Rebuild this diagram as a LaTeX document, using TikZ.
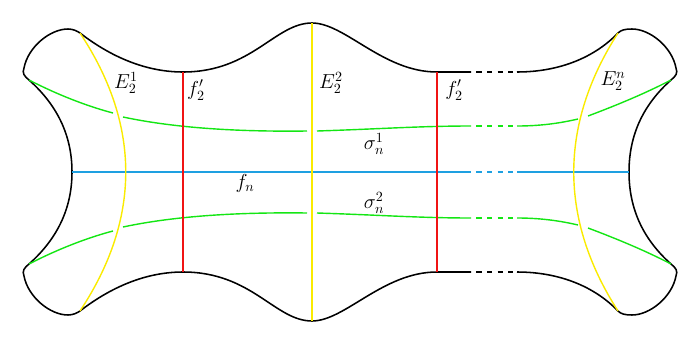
\documentclass[tikz,border=0pt]{standalone}
\usepackage{tikz}

\definecolor{seablue}{RGB}{30,160,225}
\definecolor{leafgreen}{RGB}{20,230,20}
\definecolor{sunyellow}{RGB}{250,235,0}
\definecolor{fibrered}{RGB}{240,20,20}

\tikzset{
	rim/.style={line width=1.1pt, black},
	rimdash/.style={rim, dash pattern=on 3.6pt off 3.9pt, dash phase=3.6pt},
	fibre/.style={line width=1pt, draw=fibrered},
	vanish/.style={line width=1pt, draw=sunyellow},
	sectionline/.style={line width=1pt, draw=leafgreen},
	sectiondash/.style={sectionline, dash pattern=on 3.6pt off 3.9pt, dash phase=3.6pt},
	centreline/.style={line width=1pt, draw=seablue},
	centredash/.style={centreline, dash pattern=on 3.6pt off 3.9pt, dash phase=3.6pt},
	lbl/.style={inner sep=1pt, font=\Large},
}

\begin{document}
\begin{tikzpicture}[x=0.025cm, y=0.025cm]
	\useasboundingbox (0,-172) rectangle (698,172);

	% outline and green sections, top half and its mirror image
	\foreach \s in {1,-1} {
		\begin{scope}[yscale=\s]
			\coordinate (cuspL) at (29,92);
			\coordinate (cuspR) at (671,92);
			\coordinate (endL) at (80,139);
			\coordinate (endR) at (618,139);
			\coordinate (fibL) at (183,100);
			\coordinate (mid) at (312,149);
			\coordinate (fibR) at (437,100);
			\coordinate (dashA) at (471,100);
			\coordinate (dashB) at (517,100);

			% left lobe and top edge
			\draw[rim] (72,0) .. controls (72,38) and (56,68) .. (cuspL)
				.. controls (24,96) and (22,99) .. (24,104)
				.. controls (28,125) and (50,143) .. (68,143)
				.. controls (73,143) and (77,141) .. (endL)
				.. controls (115,112) and (150,100) .. (fibL)
				.. controls (252,100) and (275,149) .. (mid)
				.. controls (345,149) and (383,100) .. (fibR) -- (dashA);
			\draw[rimdash] (dashA) -- (dashB);
			% right lobe
			\draw[rim] (dashB) .. controls (560,100) and (595,115) .. (endR)
				.. controls (621,142) and (625,143) .. (632,143)
				.. controls (650,143) and (672,125) .. (676,104)
				.. controls (678,99) and (676,96) .. (cuspR)
				.. controls (644,68) and (629,38) .. (629,0);

			% green section, broken where it passes the yellow lines
			\draw[sectionline] (cuspL) .. controls (60,76) and (90,65) .. (113,59);
			\draw[sectionline] (123,55) .. controls (170,45) and (230,40) .. (307,41);
			\draw[sectionline] (317,41) .. controls (380,43) and (420,46) .. (471,46);
			\draw[sectiondash] (471,46) -- (517,46);
			\draw[sectionline] (517,46) .. controls (545,46) and (565,50) .. (578,53);
			\draw[sectionline] (588,56) .. controls (620,68) and (648,80) .. (cuspR);
		\end{scope}
	}

	% central line
	\draw[centreline] (72,0) -- (471,0);
	\draw[centredash] (471,0) -- (517,0);
	\draw[centreline] (517,0) -- (629,0);

	% fibres
	\draw[fibre] (183,100) -- (183,-100);
	\draw[fibre] (437,100) -- (437,-100);

	% exceptional curves
	\draw[vanish] (80,139) .. controls (141,47) and (141,-47) .. (80,-139);
	\draw[vanish] (312,149) -- (312,-149);
	\draw[vanish] (618,139) .. controls (559,47) and (559,-47) .. (618,-139);

	% labels
	\node[lbl] (e1) at (126,89) {$E_2^1$};
	\node[lbl] (f1) at (196,82) {$f_2'$};
	\node[lbl] (e2) at (331,89) {$E_2^2$};
	\node[lbl] (f2) at (454,82) {$f_2'$};
	\node[lbl] (s1) at (374,28) {$\sigma_n^1$};
	\node[lbl] (fn) at (245,-11) {$f_n$};
	\node[lbl] (s2) at (374,-31) {$\sigma_n^2$};
	\node[lbl] (en) at (613,91) {$E_2^n$};
\end{tikzpicture}
\end{document}
